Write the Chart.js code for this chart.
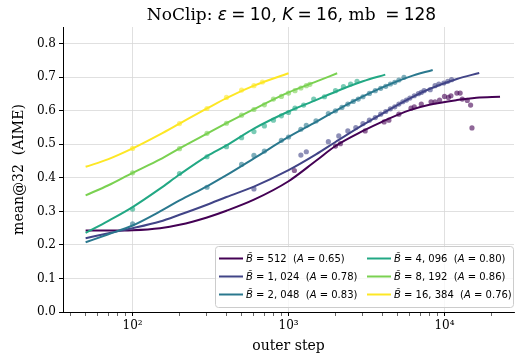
<!DOCTYPE html>
<html>
<head>
<meta charset="utf-8">
<script src="https://cdn.jsdelivr.net/npm/chart.js@4.4.1/dist/chart.umd.min.js"></script>
<style>
  html, body { margin: 0; padding: 0; background: #fff; }
  #wrap { width: 518px; height: 360px; position: relative; }
</style>
</head>
<body>
<div id="wrap"><canvas id="chart"></canvas></div>
<script>
// series meta
const batchSizes = [512, 1024, 2048, 4096, 8192, 16384];
const legendB = ["512", "1, 024", "2, 048", "4, 096", "8, 192", "16, 384"];
const legendA = ["0.65", "0.78", "0.83", "0.80", "0.86", "0.76"];
const colors = ["#440154", "#414487", "#2a788e", "#22a884", "#7ad151", "#fde725"];

// fitted curves
const fitX512 = [50, 70, 100, 150, 200, 300, 400, 600, 1000, 1500, 2000, 3000, 4000, 6000, 8000, 12000, 16000, 22700];
const fitY512 = [0.243, 0.243, 0.244, 0.25, 0.26, 0.282, 0.302, 0.335, 0.39, 0.451, 0.495, 0.54, 0.568, 0.602, 0.618, 0.632, 0.639, 0.642];
const fitX1024 = [50, 70, 100, 150, 200, 300, 400, 600, 1000, 1500, 2000, 3000, 4000, 6000, 8000, 12000, 16700];
const fitY1024 = [0.22, 0.235, 0.25, 0.27, 0.29, 0.32, 0.343, 0.374, 0.423, 0.47, 0.507, 0.558, 0.592, 0.637, 0.665, 0.695, 0.713];
const fitX2048 = [50, 70, 100, 150, 200, 300, 400, 600, 1000, 1500, 2000, 3000, 4000, 6000, 8400];
const fitY2048 = [0.208, 0.232, 0.258, 0.3, 0.333, 0.375, 0.408, 0.458, 0.522, 0.567, 0.6, 0.643, 0.67, 0.702, 0.722];
const fitX4096 = [50, 70, 100, 150, 200, 300, 400, 600, 1000, 1500, 2000, 3000, 4170];
const fitY4096 = [0.236, 0.272, 0.313, 0.368, 0.41, 0.465, 0.497, 0.547, 0.598, 0.632, 0.657, 0.688, 0.708];
const fitX8192 = [50, 70, 100, 150, 200, 300, 400, 600, 1000, 1500, 2050];
const fitY8192 = [0.348, 0.378, 0.415, 0.455, 0.488, 0.532, 0.563, 0.605, 0.655, 0.687, 0.712];
const fitX16384 = [50, 70, 100, 150, 200, 300, 400, 600, 1000];
const fitY16384 = [0.433, 0.456, 0.488, 0.53, 0.562, 0.607, 0.638, 0.675, 0.712];

// measured points
const dotX512 = [1090, 2000, 2150, 3100, 4100, 4400, 5100, 6100, 6400, 7100, 8200, 8700, 9300, 10000, 10600, 11000, 12000, 12600, 13000, 14000, 14700, 15000];
const dotY512 = [0.422, 0.495, 0.502, 0.54, 0.567, 0.572, 0.59, 0.608, 0.612, 0.62, 0.627, 0.627, 0.632, 0.643, 0.64, 0.645, 0.653, 0.653, 0.635, 0.631, 0.617, 0.549];
const dotX1024 = [600, 1200, 1300, 1800, 2100, 2400, 2700, 3000, 3300, 3600, 3900, 4200, 4500, 4800, 5100, 5400, 5700, 6000, 6400, 6800, 7100, 7400, 8100, 8700, 9200, 9900, 10500, 11100];
const dotY1024 = [0.367, 0.468, 0.478, 0.508, 0.525, 0.54, 0.55, 0.562, 0.572, 0.58, 0.59, 0.598, 0.606, 0.612, 0.62, 0.627, 0.632, 0.638, 0.645, 0.651, 0.655, 0.66, 0.663, 0.675, 0.68, 0.683, 0.688, 0.693];
const dotX2048 = [100, 300, 500, 600, 700, 900, 1000, 1200, 1300, 1500, 1800, 2000, 2200, 2400, 2600, 2800, 3000, 3300, 3600, 3900, 4200, 4500, 4800, 5100, 5500];
const dotY2048 = [0.263, 0.372, 0.44, 0.467, 0.48, 0.512, 0.522, 0.545, 0.557, 0.57, 0.592, 0.6, 0.61, 0.62, 0.628, 0.635, 0.642, 0.652, 0.66, 0.667, 0.673, 0.68, 0.685, 0.692, 0.7];
const dotX4096 = [100, 200, 300, 400, 500, 600, 700, 800, 900, 1000, 1100, 1250, 1450, 1700, 2000, 2250, 2500, 2750];
const dotY4096 = [0.307, 0.413, 0.463, 0.493, 0.52, 0.538, 0.555, 0.572, 0.585, 0.595, 0.608, 0.617, 0.635, 0.642, 0.66, 0.672, 0.68, 0.688];
const dotX8192 = [100, 200, 300, 400, 500, 600, 700, 800, 900, 1000, 1100, 1200, 1300, 1370];
const dotY8192 = [0.415, 0.487, 0.533, 0.563, 0.587, 0.604, 0.618, 0.635, 0.643, 0.653, 0.66, 0.668, 0.675, 0.679];
const dotX16384 = [100, 200, 300, 400, 500, 600, 680];
const dotY16384 = [0.488, 0.562, 0.607, 0.64, 0.662, 0.675, 0.686];

// axes
const xTickValues = [40, 50, 60, 70, 80, 90, 100, 200, 300, 400, 500, 600, 700, 800, 900,
  1000, 2000, 3000, 4000, 5000, 6000, 7000, 8000, 9000, 10000, 20000];
const xMajorValues = [100, 1000, 10000];
const xMajorLabels = ["10\u00b2", "10\u00b3", "10\u2074"];
const yTickValues = [0, 0.1, 0.2, 0.3, 0.4, 0.5, 0.6, 0.7, 0.8];

const fitXs = [fitX512, fitX1024, fitX2048, fitX4096, fitX8192, fitX16384];
const fitYs = [fitY512, fitY1024, fitY2048, fitY4096, fitY8192, fitY16384];
const dotXs = [dotX512, dotX1024, dotX2048, dotX4096, dotX8192, dotX16384];
const dotYs = [dotY512, dotY1024, dotY2048, dotY4096, dotY8192, dotY16384];

function toPoints(xs, ys) {
  return xs.map((x, i) => ({ x: x, y: ys[i] }));
}

function withAlpha(hex, a) {
  const n = parseInt(hex.slice(1), 16);
  return `rgba(${(n >> 16) & 255}, ${(n >> 8) & 255}, ${n & 255}, ${a})`;
}

const datasets = [];
batchSizes.forEach((b, i) => {
  datasets.push({
    type: "line",
    label: "fit " + b,
    data: toPoints(fitXs[i], fitYs[i]),
    borderColor: colors[i],
    borderWidth: 2,
    pointRadius: 0,
    fill: false,
    cubicInterpolationMode: "monotone",
    order: 100 - 2 * i,
  });
  datasets.push({
    type: "scatter",
    label: "B " + b,
    data: toPoints(dotXs[i], dotYs[i]),
    backgroundColor: withAlpha(colors[i], 0.6),
    borderWidth: 0,
    pointRadius: 2.6,
    order: 99 - 2 * i,
  });
});

// draw a run of text pieces in different fonts
function drawPieces(ctx, pieces, x, y, align) {
  let total = 0;
  pieces.forEach((p) => {
    ctx.font = p.f;
    total += ctx.measureText(p.t).width;
  });
  let cx = align === "center" ? x - total / 2 : x;
  pieces.forEach((p) => {
    ctx.font = p.f;
    ctx.fillText(p.t, cx, y);
    cx += ctx.measureText(p.t).width;
  });
}

const SP = "\u2005"; // math-ish space around "="

const titlePlugin = {
  id: "mixedTitle",
  afterDraw(chart) {
    const ctx = chart.ctx;
    const area = chart.chartArea;
    const serif = '17px "DejaVu Serif"';
    const sans = '17px "DejaVu Sans"';
    const ital = 'italic 17px "DejaVu Sans"';
    ctx.save();
    ctx.fillStyle = "#000";
    ctx.textBaseline = "alphabetic";
    ctx.textAlign = "left";
    drawPieces(ctx, [
      { t: "NoClip: ", f: serif },
      { t: "\u03b5", f: ital },
      { t: SP + "=" + SP + "10", f: sans },
      { t: ", ", f: serif },
      { t: "K", f: ital },
      { t: SP + "=" + SP + "16", f: sans },
      { t: ", mb ", f: serif },
      { t: SP + "=" + SP + "128", f: sans },
    ], (area.left + area.right) / 2 + 3, 19.5, "center");
    ctx.restore();
  },
};

const legendPlugin = {
  id: "mathLegend",
  afterDraw(chart) {
    const ctx = chart.ctx;
    const boxX = 215, boxY = 246, boxW = 298, boxH = 61;
    ctx.save();
    ctx.beginPath();
    ctx.roundRect(boxX + 0.5, boxY + 0.5, boxW, boxH, 3);
    ctx.fillStyle = "rgba(255,255,255,0.8)";
    ctx.fill();
    ctx.strokeStyle = "#cccccc";
    ctx.lineWidth = 1;
    ctx.stroke();

    const colX = [219, 367];
    const rowY = [258.5, 276.5, 294.5];
    const sans = '10px "DejaVu Sans"';
    const ital = 'italic 10px "DejaVu Sans"';
    ctx.textBaseline = "middle";
    ctx.textAlign = "left";
    batchSizes.forEach((b, i) => {
      const x = colX[Math.floor(i / 3)];
      const y = rowY[i % 3];
      ctx.strokeStyle = colors[i];
      ctx.lineWidth = 2;
      ctx.beginPath();
      ctx.moveTo(x, y);
      ctx.lineTo(x + 24, y);
      ctx.stroke();
      ctx.fillStyle = "#000";
      drawPieces(ctx, [
        { t: "B\u0303", f: ital },
        { t: " = " + legendB[i] + "  (", f: sans },
        { t: "A", f: ital },
        { t: " = " + legendA[i] + ")", f: sans },
      ], x + 27, y + 1, "left");
    });
    ctx.restore();
  },
};

const gridColor = "#d8d8d8";

new Chart(document.getElementById("chart"), {
  type: "line",
  data: { datasets: datasets },
  options: {
    responsive: true,
    maintainAspectRatio: false,
    animation: false,
    layout: { padding: { top: 27, right: 1, left: 0, bottom: 0 } },
    plugins: {
      legend: { display: false },
      tooltip: { enabled: false },
    },
    scales: {
      x: {
        type: "logarithmic",
        min: 35.8,
        max: 27900,
        afterBuildTicks: (scale) => {
          scale.ticks = xTickValues.map((v) => ({ value: v }));
        },
        afterFit: (scale) => {
          scale.height = 48;
        },
        ticks: {
          autoSkip: false,
          maxRotation: 0,
          padding: 3,
          color: "#000",
          font: { family: "DejaVu Serif", size: 12 },
          callback: (value) => {
            const idx = xMajorValues.indexOf(value);
            return idx >= 0 ? xMajorLabels[idx] : "";
          },
        },
        grid: {
          color: (ctx) => (ctx.tick && xMajorValues.includes(ctx.tick.value) ? gridColor : "rgba(0,0,0,0)"),
          lineWidth: 0.8,
          borderDash: [1.2, 2.4],
          dash: [1.2, 2.4],
          tickColor: "#000",
          tickLength: 4,
          tickWidth: (ctx) => (ctx.tick && xMajorValues.includes(ctx.tick.value) ? 1 : 0.6),
        },
        border: { color: "#000", width: 1 },
        title: {
          display: true,
          text: "outer step",
          color: "#000",
          font: { family: "DejaVu Serif", size: 14 },
          padding: { top: 0, bottom: 5 },
        },
      },
      y: {
        min: 0,
        max: 0.85,
        afterBuildTicks: (scale) => {
          scale.ticks = yTickValues.map((v) => ({ value: v }));
        },
        afterFit: (scale) => {
          scale.width = 63;
        },
        ticks: {
          padding: 3,
          color: "#000",
          font: { family: "DejaVu Serif", size: 12 },
          callback: (value) => value.toFixed(1),
        },
        grid: {
          color: gridColor,
          lineWidth: 0.8,
          borderDash: [1.2, 2.4],
          dash: [1.2, 2.4],
          tickColor: "#000",
          tickLength: 4,
          tickWidth: 1,
        },
        border: { color: "#000", width: 1 },
        title: {
          display: true,
          text: "mean@32  (AIME)",
          color: "#000",
          font: { family: "DejaVu Serif", size: 14 },
          padding: { top: 11, bottom: 0 },
        },
      },
    },
  },
  plugins: [titlePlugin, legendPlugin],
});
</script>
</body>
</html>
